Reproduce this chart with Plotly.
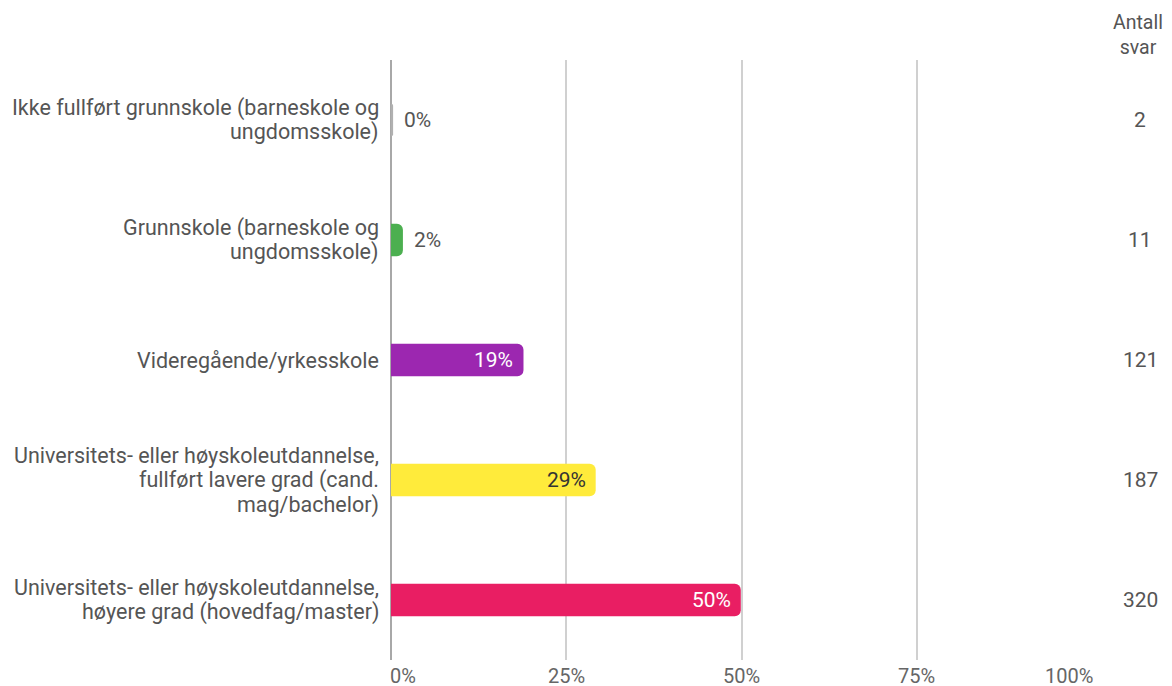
import plotly.graph_objects as go

categories = [
    "Ikke fullført grunnskole (barneskole og<br>ungdomsskole)",
    "Grunnskole (barneskole og<br>ungdomsskole)",
    "Videregående/yrkesskole",
    "Universitets- eller høyskoleutdannelse,<br>fullført lavere grad (cand.<br>mag/bachelor)",
    "Universitets- eller høyskoleutdannelse,<br>høyere grad (hovedfag/master)",
]
percent_values = [0.3, 1.7, 18.9, 29.2, 49.9]
percent_labels = ["0%", "2%", "19%", "29%", "50%"]
answer_counts = ["2", "11", "121", "187", "320"]
bar_colors = ["#b0b0b0", "#4caf50", "#9c27b0", "#ffeb3b", "#e91e63"]
label_inside = [False, False, True, True, True]
label_colors = ["#555555", "#555555", "#ffffff", "#333333", "#ffffff"]
x_tick_values = [0, 25, 50, 75, 100]
x_tick_labels = ["0%", "25%", "50%", "75%", "100%"]
count_header = "Antall<br>svar"

FONT = "Roboto, Arial, sans-serif"
TXT = "#555555"

# page has an 8px body margin; compensate so the plot lands where the reference has it
OFF = 8
W, H = 1172 - OFF, 686 - OFF
L, R, T, B = 391 - OFF, 80, 60 - OFF, 26
pw = W - L - R
ph = H - T - B


def px_x(page_x):
    return (page_x - OFF - L) / pw


def px_y(page_y):
    return (H - B - (page_y - OFF)) / ph


fig = go.Figure()
fig.add_trace(go.Bar(
    x=percent_values,
    y=categories,
    orientation="h",
    marker=dict(color=bar_colors, cornerradius=6, line=dict(width=0)),
    width=0.27,
    hoverinfo="skip",
))

annotations = []
# bar value labels
for cat, v, t, inside, col in zip(categories, percent_values, percent_labels, label_inside, label_colors):
    annotations.append(dict(
        x=v, y=cat, xref="x", yref="y", text=t, showarrow=False,
        xanchor="right" if inside else "left", xshift=-8 if inside else 9,
        font=dict(family=FONT, size=21, color=col),
    ))
# category labels (one annotation per line for the reference's line spacing)
LINE = 24.5
for cat in categories:
    lines = cat.split("<br>")
    n = len(lines)
    for i, ln in enumerate(lines):
        annotations.append(dict(
            x=0, y=cat, xref="paper", yref="y", text=ln, showarrow=False,
            xanchor="right", xshift=-10, yshift=((n - 1) / 2 - i) * LINE,
            font=dict(family=FONT, size=21.5, color=TXT),
        ))
# x tick labels
for v, t in zip(x_tick_values, x_tick_labels):
    anchor = "left" if v == 0 else ("right" if v == 100 else "center")
    annotations.append(dict(
        x=v, y=px_y(676), xref="x", yref="paper", yanchor="middle", xanchor=anchor,
        xshift=-3 if v == 0 else (3 if v == 100 else 0),
        text=t, showarrow=False,
        font=dict(family=FONT, size=20, color="#666666"),
    ))
# counts
for cat, c in zip(categories, answer_counts):
    annotations.append(dict(
        x=px_x(1140), xref="paper", y=cat, yref="y",
        text=c, showarrow=False, xanchor="center",
        font=dict(family=FONT, size=21, color=TXT),
    ))
annotations.append(dict(
    x=px_x(1138), y=px_y(35), xref="paper", yref="paper",
    xanchor="center", yanchor="middle", text=count_header, showarrow=False,
    font=dict(family=FONT, size=19.5, color=TXT),
))

fig.update_layout(
    width=W, height=H,
    margin=dict(l=L, r=R, t=T, b=B, autoexpand=False),
    paper_bgcolor="white", plot_bgcolor="white",
    showlegend=False,
    annotations=annotations,
    xaxis=dict(
        range=[0, 100], tickvals=x_tick_values, showticklabels=False,
        showgrid=True, gridcolor="#d0d0d0", gridwidth=1.5,
        zeroline=True, zerolinecolor="#a8a8a8", zerolinewidth=2,
        fixedrange=True,
    ),
    yaxis=dict(
        autorange="reversed", showgrid=False, zeroline=False,
        showticklabels=False, automargin=False, fixedrange=True,
    ),
)

fig.write_html("out.html")
